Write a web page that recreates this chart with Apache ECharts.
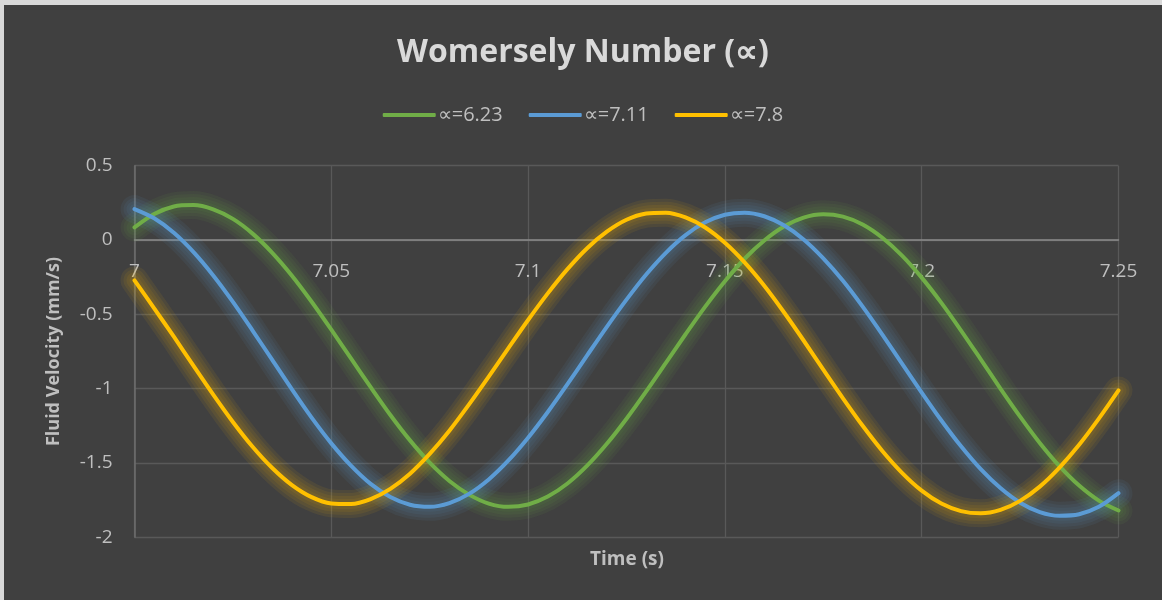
<!DOCTYPE html>
<html>
<head>
<meta charset="utf-8">
<script src="https://cdn.jsdelivr.net/npm/echarts@6/dist/echarts.min.js"></script>
<style>
  html, body { margin: 0; padding: 0; background: #d9d9d9; width: 1162px; height: 600px; overflow: hidden; }
  #chart { position: absolute; left: 4px; top: 5px; width: 1158px; height: 595px; background: #404040; }
</style>
</head>
<body>
<div id="chart"></div>
<script>
// Sample times (s)
const times = [
  7.000, 7.005, 7.010, 7.015, 7.020, 7.025, 7.030, 7.035, 7.040, 7.045,
  7.050, 7.055, 7.060, 7.065, 7.070, 7.075, 7.080, 7.085, 7.090, 7.095,
  7.100, 7.105, 7.110, 7.115, 7.120, 7.125, 7.130, 7.135, 7.140, 7.145,
  7.150, 7.155, 7.160, 7.165, 7.170, 7.175, 7.180, 7.185, 7.190, 7.195,
  7.200, 7.205, 7.210, 7.215, 7.220, 7.225, 7.230, 7.235, 7.240, 7.245,
  7.250
];

// Fluid velocity (mm/s) for each Womersley number
const alpha623 = [
  0.085, 0.175, 0.226, 0.235, 0.206, 0.142, 0.043, -0.086, -0.240, -0.415,
  -0.603, -0.797, -0.990, -1.177, -1.348, -1.498, -1.621, -1.713, -1.773, -1.795,
  -1.779, -1.726, -1.638, -1.518, -1.371, -1.202, -1.018, -0.826, -0.634, -0.448,
  -0.277, -0.126, -0.003, 0.091, 0.151, 0.173, 0.157, 0.104, 0.015, -0.105,
  -0.253, -0.423, -0.609, -0.803, -0.999, -1.188, -1.365, -1.521, -1.652, -1.753,
  -1.820
];
const alpha711 = [
  0.208, 0.146, 0.049, -0.081, -0.238, -0.416, -0.609, -0.807, -1.005, -1.195,
  -1.368, -1.518, -1.641, -1.729, -1.781, -1.795, -1.770, -1.708, -1.611, -1.483,
  -1.330, -1.157, -0.970, -0.776, -0.584, -0.401, -0.232, -0.086, 0.033, 0.119,
  0.170, 0.184, 0.160, 0.099, 0.004, -0.123, -0.274, -0.448, -0.636, -0.831,
  -1.026, -1.214, -1.388, -1.542, -1.669, -1.767, -1.830, -1.855, -1.845, -1.795,
  -1.703
];
const alpha78 = [
  -0.271, -0.460, -0.650, -0.847, -1.040, -1.224, -1.391, -1.534, -1.649, -1.730,
  -1.772, -1.776, -1.743, -1.674, -1.572, -1.439, -1.283, -1.106, -0.919, -0.727,
  -0.538, -0.359, -0.196, -0.055, 0.056, 0.136, 0.178, 0.184, 0.152, 0.084,
  -0.019, -0.151, -0.308, -0.486, -0.676, -0.872, -1.065, -1.250, -1.419, -1.566,
  -1.686, -1.773, -1.824, -1.839, -1.816, -1.755, -1.659, -1.531, -1.378, -1.202,
  -1.012
];

const seriesNames = ['\u221d=6.23', '\u221d=7.11', '\u221d=7.8'];
const seriesColors = ['#70ad47', '#5b9bd5', '#ffc000'];
const seriesRgb = ['112,173,71', '91,155,213', '255,192,0'];
const seriesValues = [alpha623, alpha711, alpha78];

// stacked translucent strokes that make the soft glow around each curve
const glowWidths = [28, 22, 16, 10];
const glowAlpha = 0.075;

const FONT = '"Open Sans", Lato, sans-serif';
const chart = echarts.init(document.getElementById('chart'));

const points = k => times.map((t, i) => [t, seriesValues[k][i]]);

const glowSeries = [];
seriesNames.forEach((name, k) => {
  glowWidths.forEach((w, j) => {
    glowSeries.push({
      name: 'glow ' + name + ' ' + j,
      type: 'line',
      symbol: 'none',
      smooth: 0.3,
      silent: true,
      z: 1,
      lineStyle: {
        color: 'rgba(' + seriesRgb[k] + ',' + glowAlpha + ')',
        width: w,
        cap: 'round',
        join: 'round',
        shadowColor: 'rgba(' + seriesRgb[k] + ',0.08)',
        shadowBlur: 6
      },
      data: points(k)
    });
  });
});

const mainSeries = seriesNames.map((name, k) => ({
  name,
  type: 'line',
  symbol: 'none',
  smooth: 0.3,
  z: 3,
  color: seriesColors[k],
  lineStyle: { color: seriesColors[k], width: 4, cap: 'round', join: 'round' },
  data: points(k)
}));

chart.setOption({
  backgroundColor: '#404040',
  animation: false,
  title: [
    {
      text: 'Womersely Number (\u221d)',
      left: 'center',
      top: 27,
      textStyle: { color: '#d9d9d9', fontSize: 32, fontWeight: 'bold', fontFamily: FONT }
    },
    {
      text: 'Time (s)',
      left: 622 - 4,
      textAlign: 'center',
      top: 540,
      textStyle: { color: '#bfbfbf', fontSize: 19, fontWeight: 'bold', fontFamily: FONT }
    }
  ],
  legend: {
    top: 95,
    left: 'center',
    itemWidth: 53,
    itemHeight: 4,
    itemGap: 26,
    icon: 'roundRect',
    textStyle: { color: '#bfbfbf', fontSize: 20, fontFamily: FONT, padding: [0, 0, 0, -3] },
    data: seriesNames
  },
  grid: { left: 130.5, top: 160.7, width: 984, height: 371.6, containLabel: false },
  xAxis: {
    type: 'value',
    min: 7,
    max: 7.25,
    interval: 0.05,
    position: 'bottom',
    offset: -297.3,
    axisLine: { onZero: false, lineStyle: { color: '#8c8c8c', width: 1.5 } },
    axisTick: { show: false },
    axisLabel: { color: '#bfbfbf', fontSize: 19, fontFamily: FONT, margin: 22 },
    splitLine: { show: true, lineStyle: { color: '#595959', width: 1.3 } }
  },
  yAxis: {
    type: 'value',
    min: -2,
    max: 0.5,
    interval: 0.5,
    name: 'Fluid Velocity (mm/s)',
    nameLocation: 'middle',
    nameGap: 72,
    nameTextStyle: { color: '#bfbfbf', fontSize: 18, fontWeight: 'bold', fontFamily: FONT },
    axisLine: { show: true, lineStyle: { color: '#6e6e6e', width: 1.5 } },
    axisTick: { show: false },
    axisLabel: { color: '#bfbfbf', fontSize: 19, fontFamily: FONT, margin: 22 },
    splitLine: { show: true, lineStyle: { color: '#595959', width: 1.3 } }
  },
  series: glowSeries.concat(mainSeries)
});
</script>
</body>
</html>
